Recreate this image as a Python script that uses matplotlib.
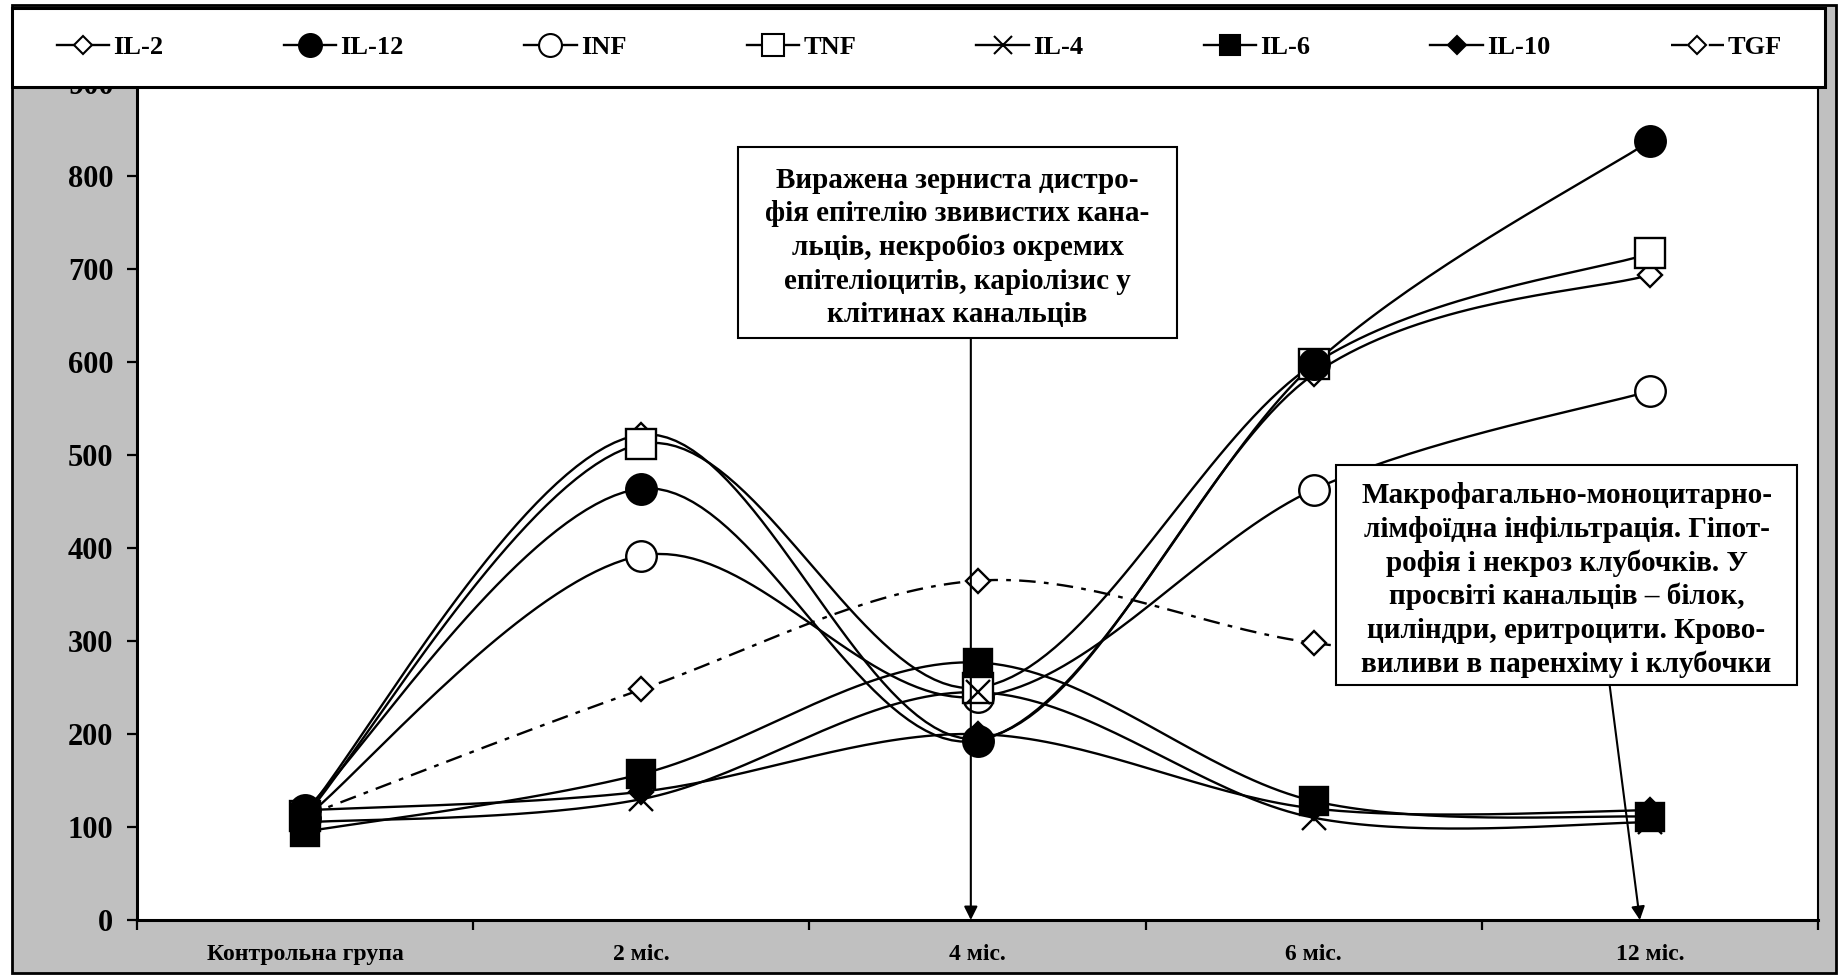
import numpy as np
import matplotlib
matplotlib.use('Agg')
import matplotlib.pyplot as plt
from matplotlib.patches import Rectangle
from matplotlib.lines import Line2D

plt.rcParams['font.family'] = ['Liberation Serif', 'DejaVu Serif']
plt.rcParams['font.weight'] = 'bold'

# data
categories = ['Контрольна група', '2 міс.', '4 міс.', '6 міс.', '12 міс.']
il2 = [115, 522, 195, 587, 694]
il12 = [118, 464, 193, 598, 838]
inf = [110, 392, 240, 463, 569]
tnf = [112, 512, 250, 598, 717]
il4 = [105, 130, 245, 110, 105]
il6 = [95, 157, 277, 128, 111]
il10 = [118, 138, 200, 120, 118]
tgf = [112, 248, 365, 298, 270]

note1 = ('Виражена зерниста дистро-\n'
         'фія епітелію звивистих кана-\n'
         'льців, некробіоз окремих\n'
         'епітеліоцитів, каріолізис у\n'
         'клітинах канальців')
note2 = ('Макрофагально-моноцитарно-\n'
         'лімфоїдна інфільтрація. Гіпот-\n'
         'рофія і некроз клубочків. У\n'
         'просвіті канальців – білок,\n'
         'циліндри, еритроцити. Крово-\n'
         'виливи в паренхіму і клубочки')


def smooth(xs, ys, n=40):
    # excel-like smoothed line: catmull-rom as cubic bezier
    x = np.asarray(xs, float)
    y = np.asarray(ys, float)
    px = np.concatenate([[x[0]], x, [x[-1]]])
    py = np.concatenate([[y[0]], y, [y[-1]]])
    t = np.linspace(0, 1, n)[:, None]
    out = []
    for i in range(len(x) - 1):
        p0 = np.array([x[i], y[i]])
        p3 = np.array([x[i + 1], y[i + 1]])
        c1 = p0 + (np.array([px[i + 2], py[i + 2]]) - np.array([px[i], py[i]])) / 6
        c2 = p3 - (np.array([px[i + 3], py[i + 3]]) - np.array([px[i + 1], py[i + 1]])) / 6
        b = (1 - t) ** 3 * p0 + 3 * (1 - t) ** 2 * t * c1 + 3 * (1 - t) * t ** 2 * c2 + t ** 3 * p3
        out.append(b if i == 0 else b[1:])
    b = np.vstack(out)
    return b[:, 0], b[:, 1]


fig = plt.figure(figsize=(18.42, 9.75), dpi=100)
fig.patch.set_facecolor('white')

# grey chart area with border
fig.patches.append(Rectangle((0.0065, 0.0021), 0.9902, 0.9928, transform=fig.transFigure,
                             facecolor='#c0c0c0', edgecolor='black', lw=2, zorder=-10))

ax = fig.add_axes([0.0744, 0.0564, 0.9126, 0.8581])
ax.set_facecolor('white')

x = np.arange(len(categories))
series = [
    ('IL-2', il2, dict(marker='D', ms=12, mfc='white'), '-'),
    ('IL-12', il12, dict(marker='o', ms=22, mfc='black'), '-'),
    ('INF', inf, dict(marker='o', ms=22, mfc='white'), '-'),
    ('TNF', tnf, dict(marker='s', ms=21, mfc='white'), '-'),
    ('IL-4', il4, dict(marker='x', ms=17, mfc='black'), '-'),
    ('IL-6', il6, dict(marker='s', ms=20, mfc='black'), '-'),
    ('IL-10', il10, dict(marker='D', ms=12, mfc='black'), '-'),
    ('TGF', tgf, dict(marker='D', ms=12, mfc='white'), (0, (7, 3.5, 2, 3.5))),
]

handles = []
for i, (name, vals, mk, ls) in enumerate(series):
    sx, sy = smooth(x, vals)
    ax.plot(sx, sy, color='black', lw=1.7, ls=ls, zorder=2 + i * 0.1)
    # filled markers sit on top of the open ones
    mz = 4 if mk['mfc'] == 'black' else 3
    ax.plot(x, vals, ls='none', mec='black', mew=1.7, zorder=mz + i * 0.1, **mk)
    handles.append(Line2D([], [], color='black', lw=1.7, ls=ls, mec='black', mew=1.5,
                          marker=mk['marker'], ms=mk['ms'] * 0.75, mfc=mk['mfc'], label=name))

ax.set_xlim(-0.5, len(categories) - 0.5)
ax.set_ylim(0, 900)
ax.set_yticks(np.arange(0, 901, 100))
ax.set_xticks(np.arange(-0.5, len(categories), 1.0))
ax.set_xticklabels([])
ax.set_xticks(x, minor=True)
ax.set_xticklabels(categories, minor=True, fontsize=17, fontweight='bold')
ax.tick_params(axis='x', which='minor', length=0, pad=17)
ax.tick_params(axis='x', which='major', direction='out', length=7, width=1.6)
ax.tick_params(axis='y', direction='out', length=7, width=1.6, pad=10, labelsize=22)
for lab in ax.get_yticklabels():
    lab.set_fontweight('bold')

ax.spines['top'].set_visible(False)
ax.spines['left'].set_linewidth(2.2)
ax.spines['bottom'].set_linewidth(2.2)
ax.spines['right'].set_linewidth(1.5)

# annotation boxes
box1 = (0.3575, 0.6957, 0.2612, 0.2283)
box2 = (0.7133, 0.2809, 0.2742, 0.2630)
for (bx, by, bw, bh), txt in [(box1, note1), (box2, note2)]:
    ax.add_patch(Rectangle((bx, by), bw, bh, transform=ax.transAxes, facecolor='white',
                           edgecolor='black', lw=1.5, zorder=10, clip_on=False))
    ax.text(bx + bw / 2, by + bh / 2 - 0.006, txt, transform=ax.transAxes, ha='center',
            va='center', multialignment='center', fontsize=21, fontweight='bold',
            linespacing=1.3, zorder=11)

arrow = dict(arrowstyle='-|>', color='black', lw=1.5, mutation_scale=20, shrinkA=0, shrinkB=0)
ax.annotate('', xy=(1.98, 0), xytext=(1.98, box1[1] * 900), arrowprops=arrow, zorder=9)
ax.annotate('', xy=(3.97, 0), xytext=(3.88, box2[1] * 900), arrowprops=arrow, zorder=9)

# legend band at the top
fig.patches.append(Rectangle((0.0065, 0.9108), 0.9842, 0.081, transform=fig.transFigure,
                             facecolor='white', edgecolor='black', lw=2.2, zorder=5))
leg = fig.legend(handles=handles, loc='center', ncol=8, mode='expand',
                 bbox_to_anchor=(0.025, 0.9108, 0.948, 0.081), frameon=False,
                 handlelength=2.0, handletextpad=0.15, borderaxespad=0,
                 prop=dict(family='Liberation Serif', weight='bold', size=19))
leg.set_zorder(6)

fig.savefig('out.png', dpi=100, facecolor=fig.get_facecolor())
